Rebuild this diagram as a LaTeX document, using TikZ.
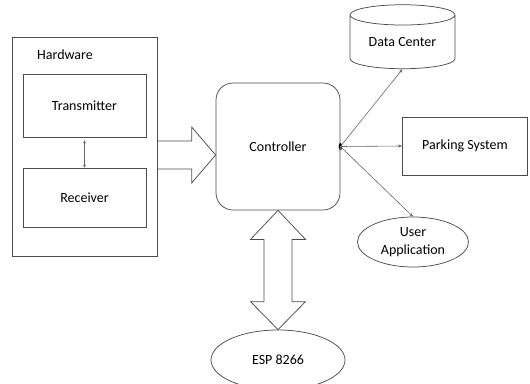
\documentclass[tikz,border=0pt]{standalone}
\usepackage{fontspec}
\setmainfont{Carlito}
\usepackage{tikz}
\usetikzlibrary{arrows.meta, shapes.geometric, calc}

\begin{document}
\begin{tikzpicture}[x=1pt, y=-1pt, font=\fontsize{14}{18}\selectfont]
\tikzstyle{block}=[draw=black!70, line width=0.75pt, inner sep=0pt]
\tikzstyle{conn}=[draw=black!60, line width=0.6pt, -{Stealth[length=4pt, width=3pt]}]
\clip (0,0)--(530,0)--(530,383)--(0,383)--cycle;

\node[block, rectangle, minimum width=145, minimum height=219] (hw) at (84.5,146.5) {};
\node (hwname) at (65,55) {Hardware};
\node[block, rectangle, minimum width=123, minimum height=63] (tx) at (84.5,105.5) {Transmitter};
\node[block, rectangle, minimum width=123, minimum height=59] (rx) at (84.5,197.5) {Receiver};
\node[block, rectangle, rounded corners=17pt, minimum width=124, minimum height=127] (ctrl) at (278,146.5) {Controller};
\node[block, cylinder, shape border rotate=90, aspect=0.3, minimum height=64, minimum width=105] (dc) at (402.5,42) {Data Center};
\node[block, rectangle, minimum width=125, minimum height=58] (ps) at (465,146) {Parking System};
\node[block, ellipse, minimum width=111, minimum height=50, align=center] (ua) at (413,242) {User\\Application};
\node[block, ellipse, minimum width=134, minimum height=60] (esp) at (278,360) {ESP 8266};
\node[fill, ellipse, minimum width=3.5, minimum height=7, inner sep=0pt] (hub) at (ctrl.east) {};

\path[conn]
(ctrl.east) edge (dc.south)
            edge (ps.west)
            edge (ua.north);
\draw[draw=black!60, line width=0.5pt, {Stealth[length=3pt, width=3pt]}-{Stealth[length=3pt, width=3pt]}] ($(tx.south)+(0,3)$) -- (rx.north);

\coordinate (ain) at ($(hw.east)+(0,8.5)$);
\coordinate (aout) at (ctrl.west |- ain);
\draw[block] ($(ain)+(0,-14)$) -- ($(aout)+(-24,-14)$) -- ($(aout)+(-24,-28)$) -- (aout)
  -- ($(aout)+(-24,28)$) -- ($(aout)+(-24,14)$) -- ($(ain)+(0,14)$);

\draw[block] (ctrl.south) -- ($(ctrl.south)+(27.5,29)$) -- ($(ctrl.south)+(14,29)$)
  -- ($(esp.north)+(14,-28)$) -- ($(esp.north)+(27.5,-28)$) -- (esp.north)
  -- ($(esp.north)+(-27.5,-28)$) -- ($(esp.north)+(-14,-28)$)
  -- ($(ctrl.south)+(-14,29)$) -- ($(ctrl.south)+(-27.5,29)$) -- cycle;

\end{tikzpicture}
\end{document}
